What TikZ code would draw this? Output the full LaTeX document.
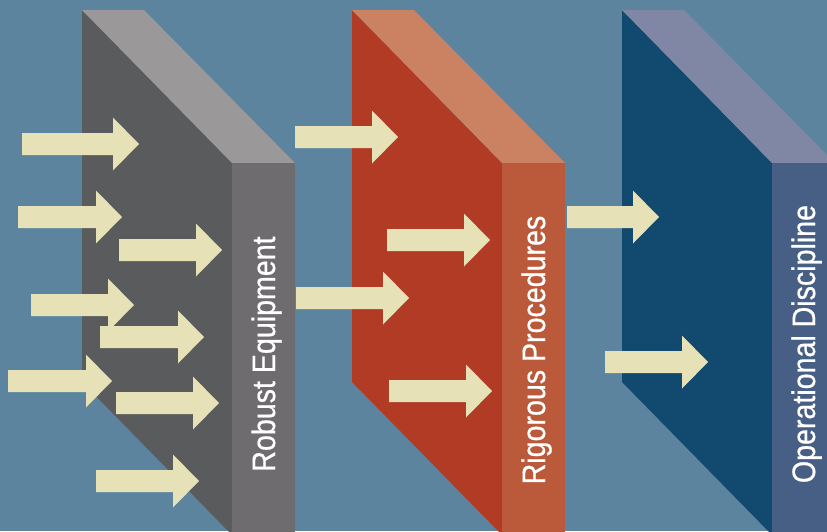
\documentclass[tikz,border=0pt]{standalone}
\usepackage{fontspec}
\newfontfamily\condfont[FakeStretch=0.88, FakeBold=0.6]{Liberation Sans}

\definecolor{bgblue}{HTML}{5C849F}
\definecolor{grayfront}{HTML}{5A5B5D}
\definecolor{graytop}{HTML}{9A9899}
\definecolor{grayside}{HTML}{6F6C6F}
\definecolor{redfront}{HTML}{B23B25}
\definecolor{redtop}{HTML}{CB8262}
\definecolor{redside}{HTML}{BA5A3A}
\definecolor{bluefront}{HTML}{12496F}
\definecolor{bluetop}{HTML}{7F87A5}
\definecolor{blueside}{HTML}{475F85}
\definecolor{arrowfill}{HTML}{E6E1B7}

\begin{document}
\begin{tikzpicture}[
    x=1pt, y=-1pt,
    blockarrow/.style={fill=arrowfill},
    sidelabel/.style={rotate=90, anchor=base, text=white,
      font=\condfont\fontsize{32.5}{32.5}\selectfont}
  ]
    % Fondo
    \useasboundingbox (0,0) rectangle (827,531);
    \fill[bgblue] (0,0) rectangle (827,531);
    \clip (0,0) rectangle (827,531);

    % Paneles
    \foreach \x/\cfront/\ctop/\cside in {82/grayfront/graytop/grayside,
        352/redfront/redtop/redside, 622/bluefront/bluetop/blueside} {
      \fill[\cfront] (\x,10) -- (\x,382) -- (\x+150,535) -- (\x+150,163) -- cycle;
      \fill[\ctop] (\x,10) -- (\x+62,10) -- (\x+213,163) -- (\x+150,163) -- cycle;
      \fill[\cside] (\x+150,163) rectangle (\x+213,540);
    }

    % Flechas (cola, altura, punta)
    \foreach \t/\y/\p in {22/144/139, 18/217/122, 119/250/222, 31/305/134,
        100/337/204, 8/381/112, 116/403/219, 96/481/199,
        295/137/398, 387/240/490, 296/298/409, 389/391/492,
        567/217/659, 605/362/708} {
      \fill[blockarrow] (\t,\y-11) -- (\p-26,\y-11) -- (\p-26,\y-26.5)
        -- (\p,\y) -- (\p-26,\y+26.5) -- (\p-26,\y+11) -- (\t,\y+11) -- cycle;
    }

    % Etiquetas
    \node[sidelabel] (robust) at (275,354) {Robust Equipment};
    \node[sidelabel] (rigorous) at (545,350) {Rigorous Procedures};
    \node[sidelabel] (operational) at (815,344) {Operational Discipline};
  \end{tikzpicture}
\end{document}
